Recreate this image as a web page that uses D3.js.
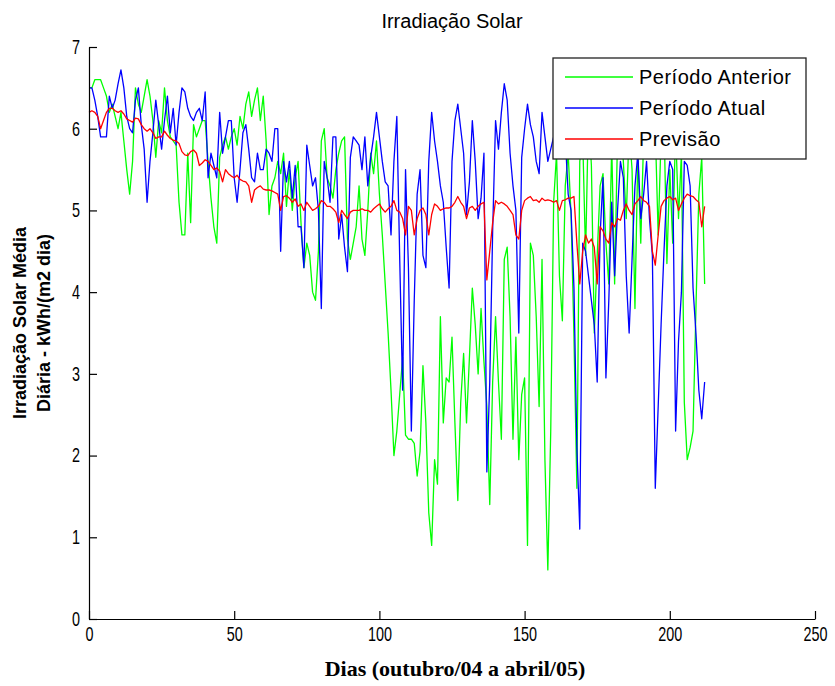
<!DOCTYPE html>
<html>
<head>
<meta charset="utf-8">
<script src="https://cdn.jsdelivr.net/npm/d3@7"></script>
<style>
  body { margin: 0; background: #fff; }
  svg { display: block; }
  .tick text { font-family: "Liberation Sans", Arial, sans-serif; font-size: 20px; fill: #000; }
</style>
</head>
<body>
<svg id="chart"></svg>
<script>
(function() {

// day index 0..212
var anterior = [
  6.5, 6.5, 6.6, 6.6, 6.6, 6.5, 6.4, 6.2, 6.3, 6.15,
  6.0, 6.2, 5.85, 5.5, 5.2, 5.6, 6.5, 6.3, 6.2, 6.4,
  6.6, 6.4, 6.1, 5.65, 6.1, 5.95, 6.5, 6.1, 5.9, 5.85,
  5.8, 5.1, 4.7, 4.7, 5.7, 4.85, 6.05, 5.9, 6.0, 6.1,
  6.1, 5.6, 5.15, 4.8, 4.6, 5.65, 5.8, 5.9, 5.75, 5.9,
  6.0, 5.8, 6.15, 6.0, 6.3, 6.45, 6.15, 6.35, 6.5, 6.1,
  6.4, 5.85, 4.95, 5.3, 5.4, 5.6, 5.45, 5.7, 5.05, 5.5,
  5.0, 5.4, 5.6, 4.85, 4.3, 4.6, 4.45, 4.0, 3.9, 4.5,
  5.85, 6.0, 5.4, 5.3, 5.15, 5.5, 5.7, 5.85, 5.9, 4.65,
  4.4, 4.6, 4.8, 5.3, 4.65, 4.45, 5.0, 5.7, 5.45, 5.85,
  5.2, 4.7, 4.1, 3.5, 2.8, 2.0, 2.3, 2.75, 3.2, 2.25,
  2.2, 2.2, 2.15, 1.75, 2.05, 3.1, 2.4, 1.3, 0.9, 1.95,
  1.65, 3.7, 2.4, 2.95, 2.9, 3.45, 2.4, 1.45, 2.65, 3.25,
  2.4, 3.2, 4.05, 3.6, 3.0, 3.8, 3.15, 2.6, 1.4, 2.9,
  3.7, 2.9, 2.2, 4.4, 4.55, 3.7, 2.2, 3.45, 1.95, 2.75,
  2.95, 0.9, 4.6, 4.45, 3.7, 2.6, 4.4, 1.95, 0.6, 2.3,
  5.1, 5.7, 4.2, 3.65, 5.3, 5.7, 4.95, 3.45, 1.6, 5.6,
  5.9, 4.45, 6.2, 5.55, 3.5, 4.45, 5.3, 5.45, 4.6, 4.1,
  5.8, 4.1, 5.9, 6.1, 5.6, 4.9, 6.0, 5.5, 3.8, 5.7,
  4.6, 5.9, 6.2, 5.65, 5.8, 6.0, 4.7, 5.9, 6.1, 4.35,
  5.5, 4.6, 6.0, 4.9, 5.7, 2.65, 1.95, 2.1, 2.3, 3.8,
  5.2, 5.65, 4.1
];

var atual = [
  6.5, 6.5, 6.35, 6.15, 5.9, 5.9, 5.9, 6.4, 6.25, 6.35,
  6.55, 6.72, 6.5, 6.15, 6.0, 5.95, 6.35, 6.5, 6.05, 5.75,
  5.1, 5.6, 5.95, 6.35, 6.05, 5.75, 6.1, 6.4, 5.95, 6.25,
  5.8, 6.2, 6.5, 6.45, 6.25, 6.15, 6.1, 6.2, 6.25, 6.1,
  6.45, 5.4, 5.7, 5.55, 5.4, 6.2, 5.7, 5.9, 6.1, 6.1,
  5.4, 5.1, 5.5, 5.95, 6.05, 5.75, 5.4, 5.35, 5.7, 5.5,
  5.5, 5.75, 5.7, 5.6, 6.0, 6.0, 4.5, 5.6, 5.35, 5.6,
  5.15, 5.55, 4.8, 4.8, 4.3, 5.8, 5.55, 5.3, 5.4, 5.0,
  3.8, 5.6, 5.4, 5.1, 5.9, 5.9, 4.65, 4.95, 4.55, 4.25,
  5.65, 5.9, 5.85, 5.8, 5.5, 5.9, 5.3, 5.65, 5.9, 6.2,
  5.9, 5.6, 5.35, 5.3, 4.7, 5.6, 6.15, 4.4, 2.8, 5.5,
  4.3, 2.3, 3.9, 5.2, 5.5, 4.45, 4.3, 5.6, 6.2, 5.85,
  5.6, 5.3, 5.1, 4.55, 4.05, 5.6, 6.1, 6.3, 6.0, 5.7,
  4.95, 5.35, 6.1, 5.6, 4.9, 5.15, 5.7, 1.8, 2.9, 4.75,
  6.1, 5.75, 6.2, 6.55, 6.35, 5.7, 5.3, 5.0, 3.5, 5.65,
  6.0, 6.3, 6.05, 5.9, 5.6, 5.45, 6.2, 5.9, 5.6, 5.75,
  5.9, 6.0, 5.7, 6.1, 5.9, 5.2, 5.0, 4.05, 2.1, 1.1,
  4.6, 4.5, 4.2, 3.9, 3.6, 2.9, 4.7, 5.4, 2.95, 3.9,
  5.1, 4.2, 5.0, 5.6, 5.4, 4.2, 3.5, 4.4, 5.3, 5.7,
  4.9, 5.2, 5.6, 4.9, 4.45, 1.6, 2.6, 3.6, 4.5, 5.3,
  5.6, 5.5, 2.3, 3.4, 4.0, 5.6, 5.55, 5.3, 4.05, 3.5,
  2.8, 2.45, 2.9
];

var previsao = [
  6.2, 6.22, 6.2, 6.15, 6.0, 6.1, 6.2, 6.25, 6.25, 6.22,
  6.2, 6.22, 6.18, 6.12, 6.1, 6.08, 6.13, 6.12, 6.05, 6.0,
  5.97, 6.0, 5.95, 5.88, 5.9, 5.9, 5.97, 5.92, 5.88, 5.86,
  5.85, 5.82, 5.72, 5.68, 5.67, 5.72, 5.74, 5.7, 5.55, 5.58,
  5.62, 5.6, 5.55, 5.5, 5.52, 5.48, 5.35, 5.5, 5.45, 5.42,
  5.4, 5.43, 5.38, 5.36, 5.35, 5.3, 5.1, 5.25, 5.28, 5.3,
  5.26, 5.25, 5.25, 5.24, 5.22, 5.2, 5.0, 5.17, 5.18, 5.15,
  5.1, 5.14, 5.05, 5.08, 5.0, 5.1, 5.05, 5.0, 5.02, 5.05,
  5.12, 5.1, 5.05, 5.05, 5.02, 4.98, 4.85, 5.0, 4.95, 4.9,
  4.98, 5.0, 5.0, 5.0, 5.02, 5.0, 5.0, 4.98, 5.02, 5.05,
  5.08, 5.02, 4.98, 5.02, 5.05, 5.12, 5.0, 4.98, 4.9, 4.7,
  5.05, 5.0, 4.7, 4.9, 5.0, 5.03, 4.95, 4.7, 4.95, 5.08,
  5.05, 5.0, 5.02, 5.03, 5.03, 5.05, 5.1, 5.17, 5.1, 5.05,
  4.9, 5.03, 5.05, 5.0, 5.05, 5.08, 5.1, 4.15, 4.5, 4.85,
  5.12, 5.08, 5.1, 5.08, 5.05, 5.0, 4.95, 4.7, 4.65, 5.0,
  5.12, 5.15, 5.17, 5.12, 5.13, 5.1, 5.15, 5.12, 5.13, 5.12,
  5.1, 5.12, 5.0, 5.12, 5.13, 5.15, 5.15, 5.17, 4.6, 4.1,
  4.5, 4.7, 4.6, 4.65, 4.55, 4.1, 4.8, 4.75, 4.65, 4.6,
  4.85, 4.8, 4.9, 4.88, 5.0, 5.08, 5.0, 4.95, 5.08, 5.12,
  5.17, 5.12, 5.1, 5.05, 4.5, 4.33, 4.7, 5.05, 5.12, 5.15,
  5.17, 5.13, 5.15, 5.0, 5.08, 5.15, 5.2, 5.18, 5.17, 5.13,
  5.1, 4.8, 5.05
];

var seriesNames = ["Período Anterior", "Período Atual", "Previsão"];
var seriesColors = ["#00ff00", "#0000ff", "#ff0000"];
var xTicks = [0, 50, 100, 150, 200, 250];
var yTicks = [0, 1, 2, 3, 4, 5, 6, 7];

var W = 835, H = 686;
var svg = d3.select("#chart").attr("width", W).attr("height", H);

var x = d3.scaleLinear().domain([0, 250]).range([89, 815]);
var y = d3.scaleLinear().domain([0, 7]).range([619, 47]);

// data lines
var line = d3.line()
  .x(function(d, i) { return x(i); })
  .y(function(d) { return y(d); });

var allSeries = [anterior, atual, previsao];
svg.selectAll(".serie")
  .data(allSeries)
  .enter().append("path")
    .attr("class", "serie")
    .attr("fill", "none")
    .attr("stroke", function(d, i) { return seriesColors[i]; })
    .attr("stroke-width", 1.3)
    .attr("stroke-linejoin", "round")
    .attr("d", line);

// axes (ticks pointing inward, no box), narrow tick labels like matlab
var xAxis = svg.append("g")
  .attr("transform", "translate(0,619)")
  .call(d3.axisBottom(x).tickValues(xTicks).tickFormat(d3.format("d"))
    .tickSizeInner(-8).tickSizeOuter(0).tickPadding(8));
xAxis.selectAll(".tick text").attr("transform", "scale(0.72,1)")
  .attr("x", function() { return 0; });

var yAxis = svg.append("g")
  .attr("transform", "translate(89,0)")
  .call(d3.axisLeft(y).tickValues(yTicks).tickFormat(d3.format("d"))
    .tickSizeInner(-8).tickSizeOuter(0).tickPadding(9));
yAxis.selectAll(".tick text")
  .attr("x", -9 / 0.72)
  .attr("transform", "scale(0.72,1)");

svg.selectAll(".domain, .tick line").attr("stroke", "#000").attr("stroke-width", 1.2);

// title
svg.append("text")
  .attr("x", 452).attr("y", 28)
  .attr("text-anchor", "middle")
  .style("font-family", '"Liberation Sans", Arial, sans-serif')
  .style("font-size", "20px")
  .text("Irradiação Solar");

// x label
svg.append("text")
  .attr("x", 455).attr("y", 676)
  .attr("text-anchor", "middle")
  .style("font-family", '"Liberation Serif", "Times New Roman", serif')
  .style("font-weight", "bold")
  .style("font-size", "22px")
  .text("Dias (outubro/04 a abril/05)");

// y label, two lines
var yLab = ["Irradiação Solar Média", "Diária - kWh/(m2 dia)"];
svg.selectAll(".ylab")
  .data(yLab)
  .enter().append("text")
    .attr("class", "ylab")
    .attr("transform", function(d, i) { return "translate(" + (26 + i * 24) + ",323) rotate(-90)"; })
    .attr("text-anchor", "middle")
    .style("font-family", '"Liberation Sans", Arial, sans-serif')
    .style("font-weight", "bold")
    .style("font-size", "18px")
    .text(function(d) { return d; });

// legend
var leg = svg.append("g");
leg.append("rect")
  .attr("x", 553).attr("y", 58)
  .attr("width", 253).attr("height", 101)
  .attr("fill", "#fff")
  .attr("stroke", "#222")
  .attr("stroke-width", 1.3);

var rowY = [77, 108, 139];
var item = leg.selectAll(".item")
  .data(seriesNames)
  .enter().append("g")
    .attr("class", "item")
    .attr("transform", function(d, i) { return "translate(0," + rowY[i] + ")"; });

item.append("line")
  .attr("x1", 565).attr("x2", 633)
  .attr("stroke", function(d, i) { return seriesColors[i]; })
  .attr("stroke-width", 1.3);

item.append("text")
  .attr("x", 639).attr("dy", "0.35em")
  .style("font-family", '"Liberation Sans", Arial, sans-serif')
  .style("font-size", "20px")
  .style("letter-spacing", "0.5px")
  .attr("fill", "#000")
  .text(function(d) { return d; });

})();
</script>
</body>
</html>
